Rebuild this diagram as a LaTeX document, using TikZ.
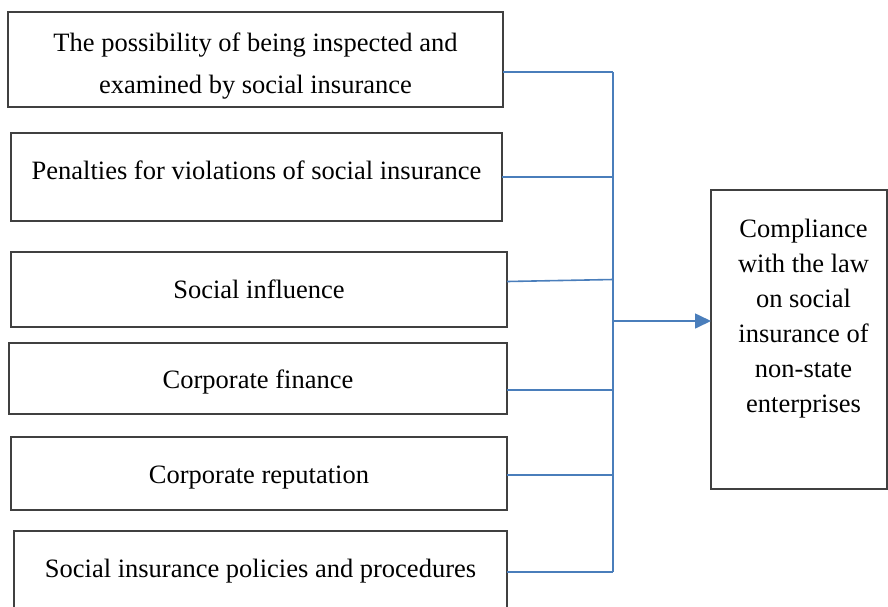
\documentclass[tikz,border=0pt]{standalone}
\usepackage{fontspec}
\setmainfont{Liberation Serif}
\usetikzlibrary{arrows.meta}
\definecolor{frame}{HTML}{404040}
\definecolor{wire}{HTML}{4A7EBB}

\tikzset{
  factor/.style={draw=frame, line width=1.3pt, inner sep=0pt, outer sep=0pt,
    font=\fontsize{26.5}{35}\selectfont, align=center},
  boxtext/.style={font=\fontsize{26.5}{35}\selectfont, align=center, inner sep=0pt},
  link/.style={draw=wire, line width=1.6pt},
}

\begin{document}
\begin{tikzpicture}[x=1pt, y=-1pt]
  \useasboundingbox (0,0) rectangle (888,606);
  % factors
  \node[factor, minimum width=495pt, minimum height=95pt,
    label={[boxtext, yshift=-6.5pt]center:{The possibility of being inspected and\\[7pt]examined by social insurance}}]
    (f1) at (255.5,59.5) {};
  \node[factor, minimum width=491pt, minimum height=88pt, text depth=14pt] (f2) at (256.5,177) {Penalties for violations of social insurance};
  \node[factor, minimum width=496pt, minimum height=75pt] (f3) at (259,289.5) {Social influence};
  \node[factor, minimum width=498pt, minimum height=71pt, text height=26pt] (f4) at (258,378.5) {Corporate finance};
  \node[factor, minimum width=496pt, minimum height=73pt, text height=26pt] (f5) at (259,473.5) {Corporate reputation};
  \node[factor, minimum width=493pt, minimum height=80pt] (f6) at (260.5,571) {Social insurance policies and procedures};
  % outcome
  \node[factor, minimum width=176pt, minimum height=299pt,
    label={[boxtext, xshift=4.5pt, yshift=21pt]center:{Compliance\\with the law\\on social\\insurance of\\non-state\\enterprises}}]
    (res) at (799,339.5) {};
  % collecting bar
  \coordinate (j1) at (613,72);
  \coordinate (j2) at (613,177);
  \coordinate (j3) at (613,279.5);
  \coordinate (j4) at (613,390);
  \coordinate (j5) at (613,475);
  \coordinate (j6) at (613,572);
  \coordinate (jout) at (613,321);
  \draw[link] (j1) -- (j6);
  \draw[link] (f1.east |- j1) -- (j1);
  \draw[link] (f2.east |- j2) -- (j2);
  \draw[link] ([yshift=-2pt]f3.east |- j3) -- (j3);
  \draw[link] (f4.east |- j4) -- (j4);
  \draw[link] (f5.east |- j5) -- (j5);
  \draw[link] (f6.east |- j6) -- (j6);
  \draw[link, -{Triangle[length=16pt, width=15pt]}] (jout) -- (res.west |- jout);
\end{tikzpicture}
\end{document}
